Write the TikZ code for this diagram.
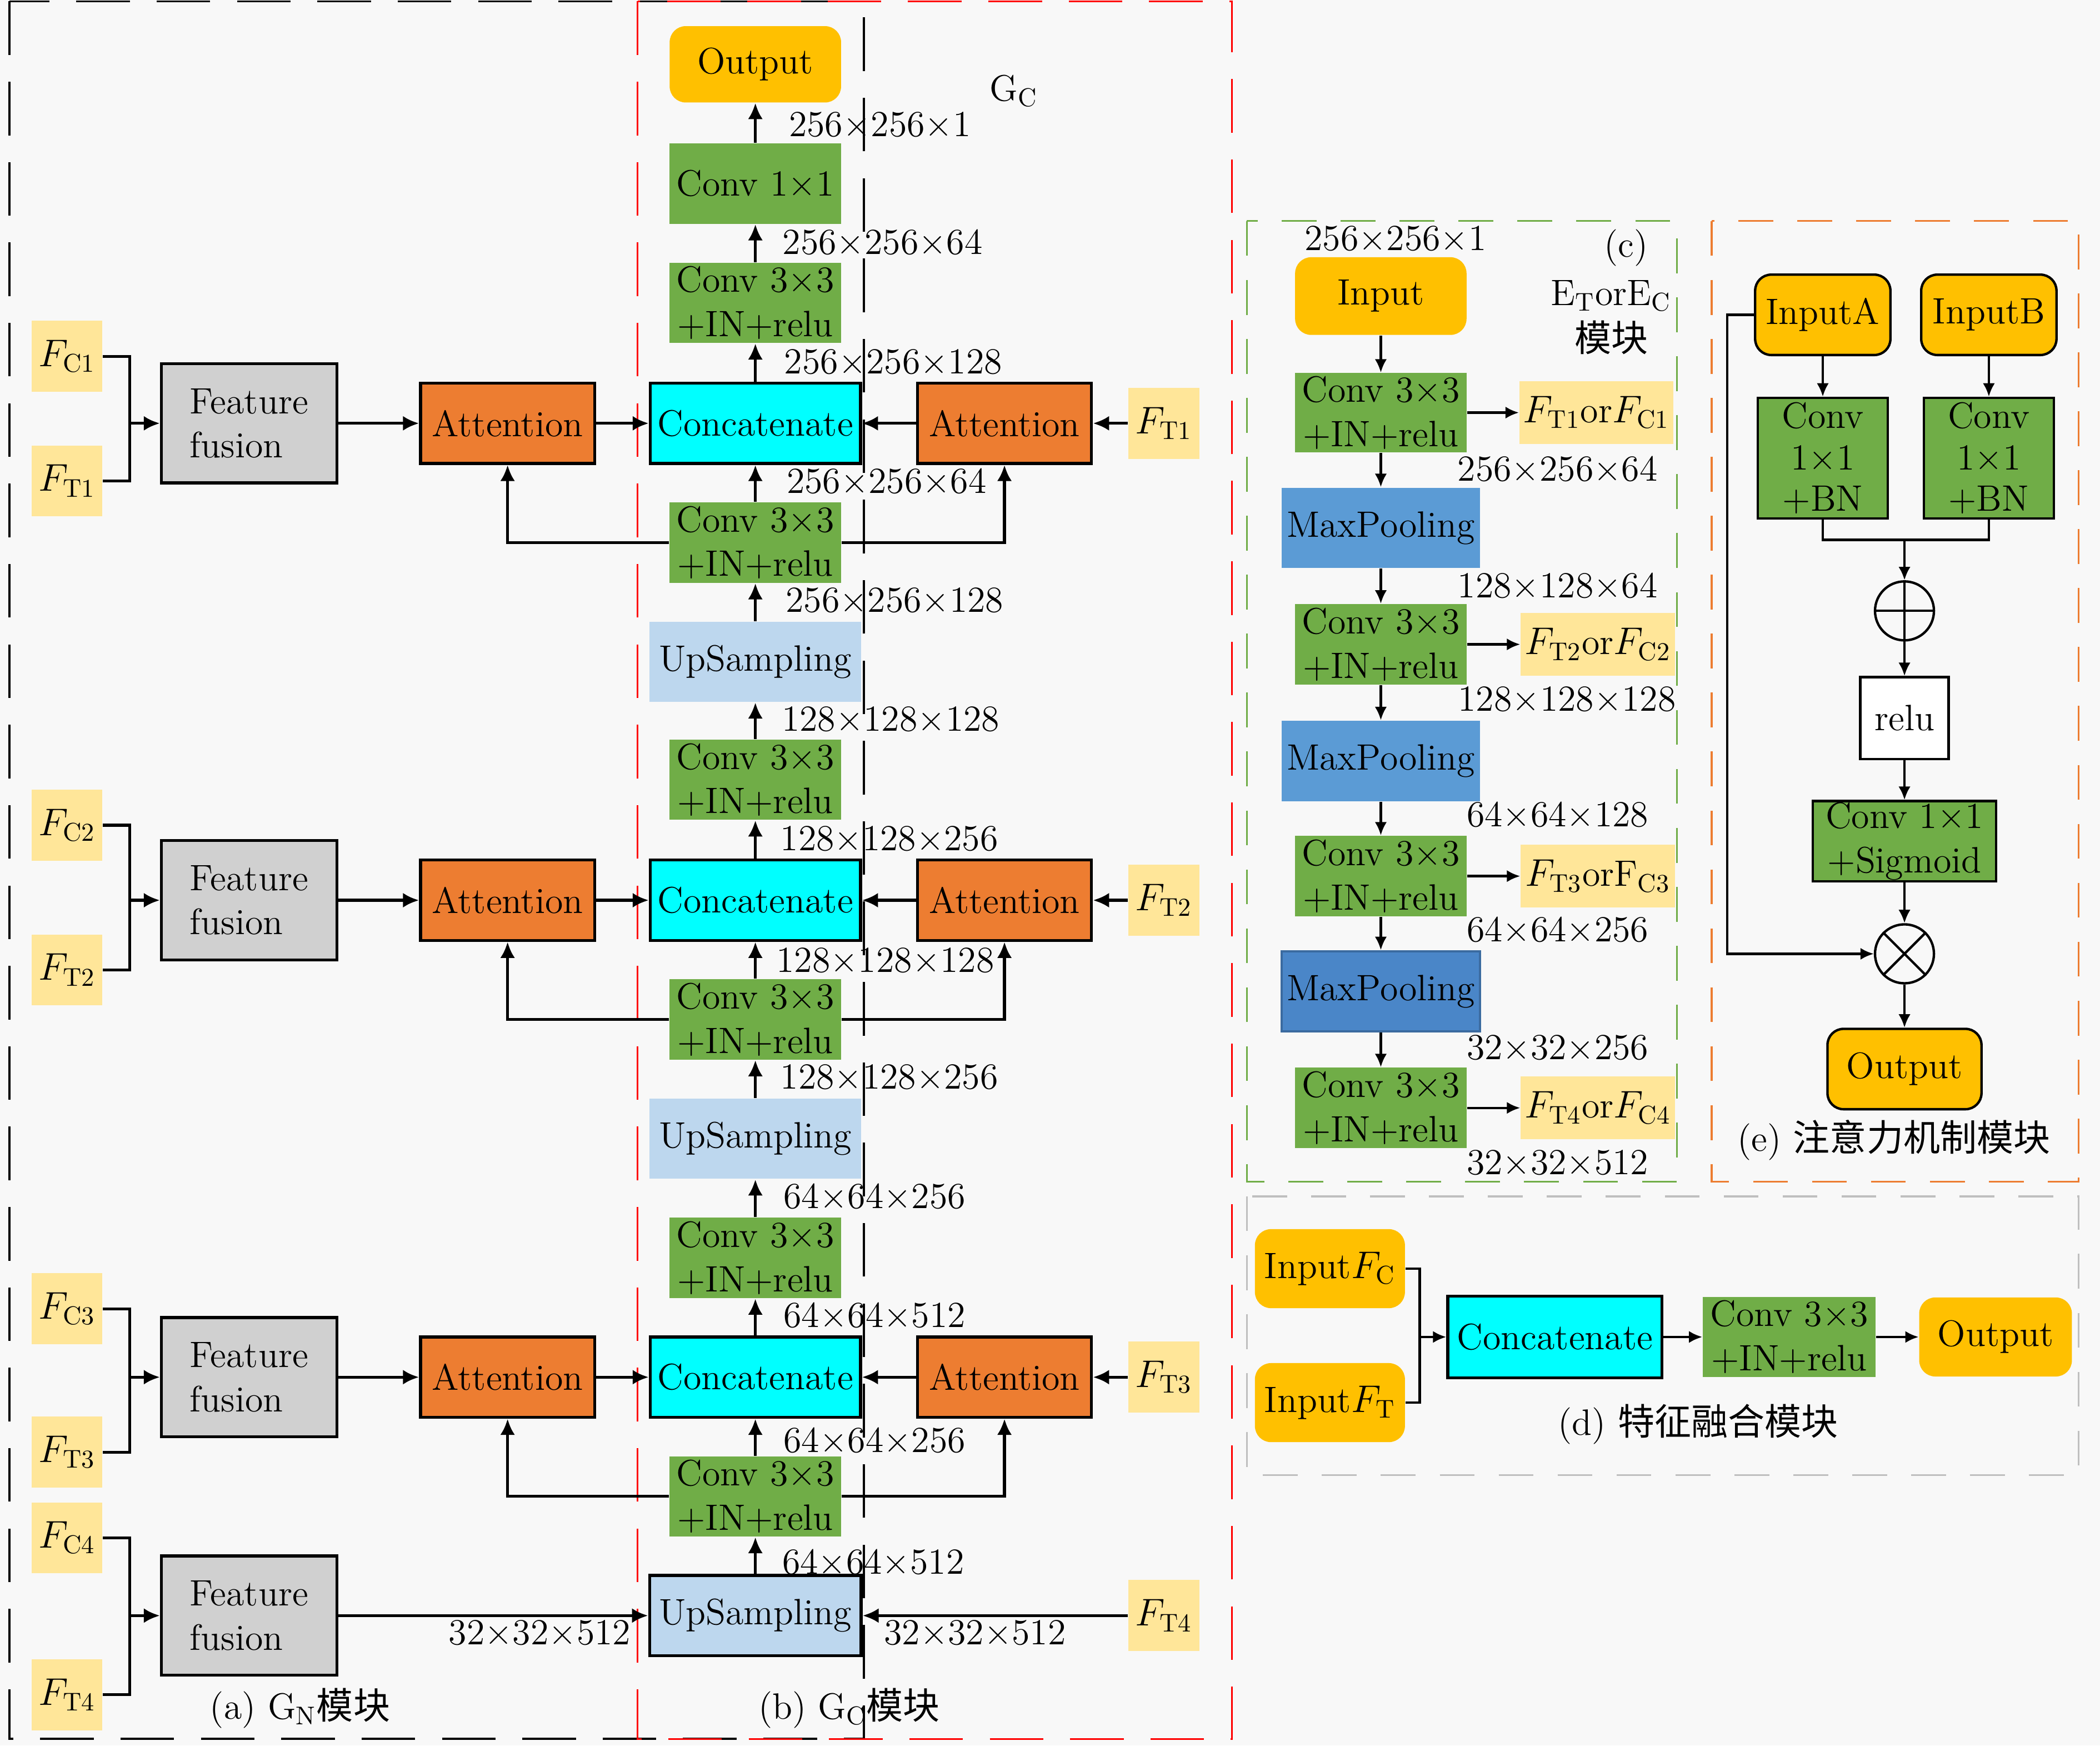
\documentclass[tikz,border=0pt]{standalone}
\usepackage{fontspec}
\newfontfamily\cjk{Noto Sans CJK SC}
\usetikzlibrary{arrows.meta}
\definecolor{cfy}{HTML}{FFE699}
\definecolor{cgold}{HTML}{FFC000}
\definecolor{cgrn}{HTML}{70AD47}
\definecolor{corg}{HTML}{ED7D31}
\definecolor{ccyn}{HTML}{00FFFF}
\definecolor{cgry}{HTML}{D0D0D0}
\definecolor{clbl}{HTML}{BDD7EE}
\definecolor{cmpb}{HTML}{5B9BD5}
\definecolor{cmpd}{HTML}{4A86C8}
\definecolor{cbg}{HTML}{F8F8F8}
\definecolor{cfrgr}{HTML}{BFBFBF}
\newcommand{\fsz}{\fontsize{13.7}{16.5}\selectfont}
\tikzset{
 every node/.style={font=\fsz, inner sep=0pt, align=center},
 fbx/.style={fill=cfy, minimum width=26.5pt, minimum height=26.5pt},
 ffbx/.style={fill=cgry, draw=black, line width=1.1pt, minimum width=65.5pt, minimum height=44.5pt, align=left},
 att/.style={fill=corg, draw=black, line width=1.1pt, minimum width=65pt, minimum height=30pt},
 cat/.style={fill=ccyn, draw=black, line width=1.1pt, minimum width=78.5pt, minimum height=30pt},
 cnv/.style={fill=cgrn, minimum width=64pt, minimum height=30pt},
 ups/.style={fill=clbl, minimum width=79pt, minimum height=30pt},
 outb/.style={fill=cgold, rounded corners=6pt, minimum width=64pt, minimum height=28.5pt},
 fcb/.style={fill=cfy, minimum width=57.5pt, minimum height=23.5pt},
 mp/.style={fill=cmpb, minimum width=74pt, minimum height=30pt},
 inab/.style={fill=cgold, draw=black, line width=0.9pt, rounded corners=6pt, minimum width=50.5pt, minimum height=30pt},
 cvb/.style={fill=cgrn, draw=black, line width=0.9pt, minimum width=48.5pt, minimum height=45pt, font=\fontsize{13.7}{15.5}\selectfont},
 crc/.style={circle, draw=black, line width=0.9pt, minimum size=22pt},
 arr/.style={line width=1.1pt, -{Latex[length=6pt,width=5.5pt]}},
 ln/.style={line width=1.1pt},
 arrs/.style={line width=0.9pt, -{Latex[length=5pt,width=4.5pt]}},
 lns/.style={line width=0.9pt},
}
\begin{document}
\begin{tikzpicture}[x=0.5pt,y=-0.5pt]
\useasboundingbox (0,0) rectangle (1568,1303);
\fill[cbg] (0,0) rectangle (1568,1303);
% frames
\draw[black, line width=0.8pt, dash pattern=on 20pt off 10pt] (7,1) rectangle (645,1298);
\draw[red, line width=0.6pt, dash pattern=on 20pt off 10pt] (476,1) rectangle (920,1298);
\draw[cgrn, line width=0.7pt, dash pattern=on 13pt off 9pt] (931,165) rectangle (1252,882);
\draw[corg, line width=0.7pt, dash pattern=on 13pt off 9pt] (1278,165) rectangle (1552,882);
\draw[cfrgr, line width=0.7pt, dash pattern=on 13pt off 9pt] (931,893) rectangle (1552,1101);

% ---------- left: rows
\node[fbx] (fc1) at (50,266) {$F_{\mathrm{C1}}$};
\node[fbx] (ft1) at (50,359) {$F_{\mathrm{T1}}$};
\node[ffbx] (ff1) at (186,316) {Feature\\fusion};
\node[att] (al1) at (379,316) {Attention};
\node[cat] (ct1) at (564,316) {Concatenate};
\node[att] (ar1) at (750,316) {Attention};
\node[fbx] (fr1) at (869,316) {$F_{\mathrm{T1}}$};

\node[fbx] (fc2) at (50,616) {$F_{\mathrm{C2}}$};
\node[fbx] (ft2) at (50,724) {$F_{\mathrm{T2}}$};
\node[ffbx] (ff2) at (186,672) {Feature\\fusion};
\node[att] (al2) at (379,672) {Attention};
\node[cat] (ct2) at (564,672) {Concatenate};
\node[att] (ar2) at (750,672) {Attention};
\node[fbx] (fr2) at (869,672) {$F_{\mathrm{T2}}$};

\node[fbx] (fc3) at (50,977) {$F_{\mathrm{C3}}$};
\node[fbx] (ft3) at (50,1084) {$F_{\mathrm{T3}}$};
\node[ffbx] (ff3) at (186,1028) {Feature\\fusion};
\node[att] (al3) at (379,1028) {Attention};
\node[cat] (ct3) at (564,1028) {Concatenate};
\node[att] (ar3) at (750,1028) {Attention};
\node[fbx] (fr3) at (869,1028) {$F_{\mathrm{T3}}$};

\node[fbx] (fc4) at (50,1148) {$F_{\mathrm{C4}}$};
\node[fbx] (ft4) at (50,1265) {$F_{\mathrm{T4}}$};
\node[ffbx] (ff4) at (186,1206) {Feature\\fusion};
\node[fbx] (fr4) at (869,1206) {$F_{\mathrm{T4}}$};

% column
\node[outb] (out1) at (564,48) {Output};
\node[cnv] (c11) at (564,137) {Conv 1×1};
\node[cnv] (c33a) at (564,226) {Conv 3×3\\+IN+relu};
\node[cnv] (c33b) at (564,405) {Conv 3×3\\+IN+relu};
\node[ups] (up1) at (564,494) {UpSampling};
\node[cnv] (c33c) at (564,582) {Conv 3×3\\+IN+relu};
\node[cnv] (c33d) at (564,761) {Conv 3×3\\+IN+relu};
\node[ups] (up2) at (564,850) {UpSampling};
\node[cnv] (c33e) at (564,939) {Conv 3×3\\+IN+relu};
\node[cnv] (c33f) at (564,1117) {Conv 3×3\\+IN+relu};
\node[ups, draw=black, line width=1.1pt] (up3) at (564,1206) {UpSampling};

% brackets
\coordinate (b1) at (97,316);
\coordinate (b2) at (97,672);
\coordinate (b3) at (97,1028);
\coordinate (b4) at (97,1206);
\draw[ln] (fc1.east) -| (b1) |- (ft1.east);
\draw[ln] (fc2.east) -| (b2) |- (ft2.east);
\draw[ln] (fc3.east) -| (b3) |- (ft3.east);
\draw[ln] (fc4.east) -| (b4) |- (ft4.east);
\draw[arr] (b1) -- (ff1);
\draw[arr] (b2) -- (ff2);
\draw[arr] (b3) -- (ff3);
\draw[arr] (b4) -- (ff4);

% horizontal
\foreach \i in {1,2,3}{
 \draw[arr] (ff\i) -- (al\i);
 \draw[arr] (al\i) -- (ct\i);
 \draw[arr] (ar\i) -- (ct\i);
 \draw[arr] (fr\i) -- (ar\i);
}
\draw[arr] (ff4) -- (up3);
\draw[arr] (fr4) -- (up3);

% vertical
\draw[arr] (ct1) -- (c33a);
\draw[arr] (c33a) -- (c11);
\draw[arr] (c11) -- (out1);
\draw[arr] (c33b) -- (ct1);
\draw[arr] (up1) -- (c33b);
\draw[arr] (c33c) -- (up1);
\draw[arr] (ct2) -- (c33c);
\draw[arr] (c33d) -- (ct2);
\draw[arr] (up2) -- (c33d);
\draw[arr] (c33e) -- (up2);
\draw[arr] (ct3) -- (c33e);
\draw[arr] (c33f) -- (ct3);
\draw[arr] (up3) -- (c33f);

% side branches
\draw[arr] (c33b.west) -| (al1.south);
\draw[arr] (c33b.east) -| (ar1.south);
\draw[arr] (c33d.west) -| (al2.south);
\draw[arr] (c33d.east) -| (ar2.south);
\draw[arr] (c33f.west) -| (al3.south);
\draw[arr] (c33f.east) -| (ar3.south);

% dimension labels
\node (d1) at (657,93) {256×256×1};
\node (d2) at (659,181) {256×256×64};
\node (d3) at (667,270) {256×256×128};
\node (d4) at (662,359) {256×256×64};
\node (d5) at (668,448) {256×256×128};
\node (d6) at (665,537) {128×128×128};
\node (d7) at (664,626) {128×128×256};
\node (d8) at (661,717) {128×128×128};
\node (d9) at (664,804) {128×128×256};
\node (d10) at (653,893) {64×64×256};
\node (d11) at (653,982) {64×64×512};
\node (d12) at (653,1075) {64×64×256};
\node (d13) at (652,1166) {64×64×512};
\node (d14) at (403,1219) {32×32×512};
\node (d15) at (728,1219) {32×32×512};
\node (gc) at (757,68) {G$_{\mathrm{C}}$};
\node (capa) at (224,1275) {(a) G$_{\mathrm{N}}${\cjk 模块}};
\node (capb) at (634,1275) {(b) G$_{\mathrm{C}}${\cjk 模块}};

% ---------- panel (c)
\node (dc0) at (1042,178) {256×256×1};
\node[outb, minimum height=29pt] (inp) at (1031,221) {Input};
\node (cc) at (1214,185) {(c)};
\node (ce) at (1203,221) {E$_{\mathrm{T}}$orE$_{\mathrm{C}}$};
\node (cm) at (1203,252) {\cjk 模块};
\node[cnv, minimum height=29.5pt] (k1) at (1031,308) {Conv 3×3\\+IN+relu};
\node[fcb] (o1) at (1192,308) {$F_{\mathrm{T1}}$or$F_{\mathrm{C1}}$};
\node (dc1) at (1163,350) {256×256×64};
\node[mp] (m1) at (1031,394) {MaxPooling};
\node (dc2) at (1163,437) {128×128×64};
\node[cnv] (k2) at (1031,481) {Conv 3×3\\+IN+relu};
\node[fcb] (o2) at (1193,481) {$F_{\mathrm{T2}}$or$F_{\mathrm{C2}}$};
\node (dc3) at (1170,522) {128×128×128};
\node[mp] (m2) at (1031,568) {MaxPooling};
\node (dc4) at (1163,608) {64×64×128};
\node[cnv] (k3) at (1031,654) {Conv 3×3\\+IN+relu};
\node[fcb] (o3) at (1193,654) {$F_{\mathrm{T3}}$orF$_{\mathrm{C3}}$};
\node (dc5) at (1163,694) {64×64×256};
\node[mp, fill=cmpd, draw=cmpd!80!black, line width=0.8pt] (m3) at (1031,740) {MaxPooling};
\node (dc6) at (1163,782) {32×32×256};
\node[cnv] (k4) at (1031,827) {Conv 3×3\\+IN+relu};
\node[fcb] (o4) at (1193,827) {$F_{\mathrm{T4}}$or$F_{\mathrm{C4}}$};
\node (dc7) at (1163,868) {32×32×512};
\draw[arrs] (inp) -- (k1);
\draw[arrs] (k1) -- (m1);
\draw[arrs] (m1) -- (k2);
\draw[arrs] (k2) -- (m2);
\draw[arrs] (m2) -- (k3);
\draw[arrs] (k3) -- (m3);
\draw[arrs] (m3) -- (k4);
\draw[arrs] (k1) -- (o1);
\draw[arrs] (k2) -- (o2);
\draw[arrs] (k3) -- (o3);
\draw[arrs] (k4) -- (o4);

% ---------- panel (e)
\node[inab] (ina) at (1361,235) {InputA};
\node[inab] (inb) at (1485,235) {InputB};
\node[cvb] (cva) at (1361,342) {Conv\\1×1\\+BN};
\node[cvb] (cvB) at (1485,342) {Conv\\1×1\\+BN};
\coordinate (jn) at (1422,403);
\node[crc] (op) at (1422,456) {};
\node[draw=black, fill=white, line width=0.9pt, minimum width=33pt, minimum height=30.5pt] (relu) at (1422,536) {relu};
\node[cvb, minimum width=68.5pt, minimum height=30pt, font=\fsz] (sig) at (1422,628) {Conv 1×1\\+Sigmoid};
\node[crc] (ot) at (1422,712) {};
\node[inab, minimum width=57.5pt] (oute) at (1422,798) {Output};
\node (cape) at (1414,851) {(e) {\cjk 注意力机制模块}};
\draw[lns] (op.north) -- (op.south) (op.west) -- (op.east);
\draw[lns] (ot.north west) -- (ot.south east) (ot.north east) -- (ot.south west);
\draw[arrs] (ina) -- (cva);
\draw[arrs] (inb) -- (cvB);
\draw[lns] (cva.south) |- (jn) -| (cvB.south);
\draw[arrs] (jn) -- (op);
\draw[arrs] (op) -- (relu);
\draw[arrs] (relu) -- (sig);
\draw[arrs] (sig) -- (ot);
\draw[arrs] (ot) -- (oute);
\draw[arrs] (ina.west) -- ++(-10pt,0) |- (ot.west);

% ---------- panel (d)
\node[outb, minimum width=56pt, minimum height=29.5pt] (ifc) at (993,947) {Input$F_{\mathrm{C}}$};
\node[outb, minimum width=56pt, minimum height=29.5pt] (ift) at (993,1047) {Input$F_{\mathrm{T}}$};
\coordinate (bd) at (1060,998);
\node[cat, minimum width=80pt, minimum height=30.5pt] (catd) at (1161,998) {Concatenate};
\node[cnv, minimum width=64.5pt] (cnd) at (1336,998) {Conv 3×3\\+IN+relu};
\node[outb, minimum width=57pt, minimum height=29.5pt] (outd) at (1490,998) {Output};
\node (capd) at (1268,1063) {(d) {\cjk 特征融合模块}};
\draw[lns] (ifc.east) -| (bd) |- (ift.east);
\draw[arrs] (bd) -- (catd);
\draw[arrs] (catd) -- (cnd);
\draw[arrs] (cnd) -- (outd);
\end{tikzpicture}
\end{document}
